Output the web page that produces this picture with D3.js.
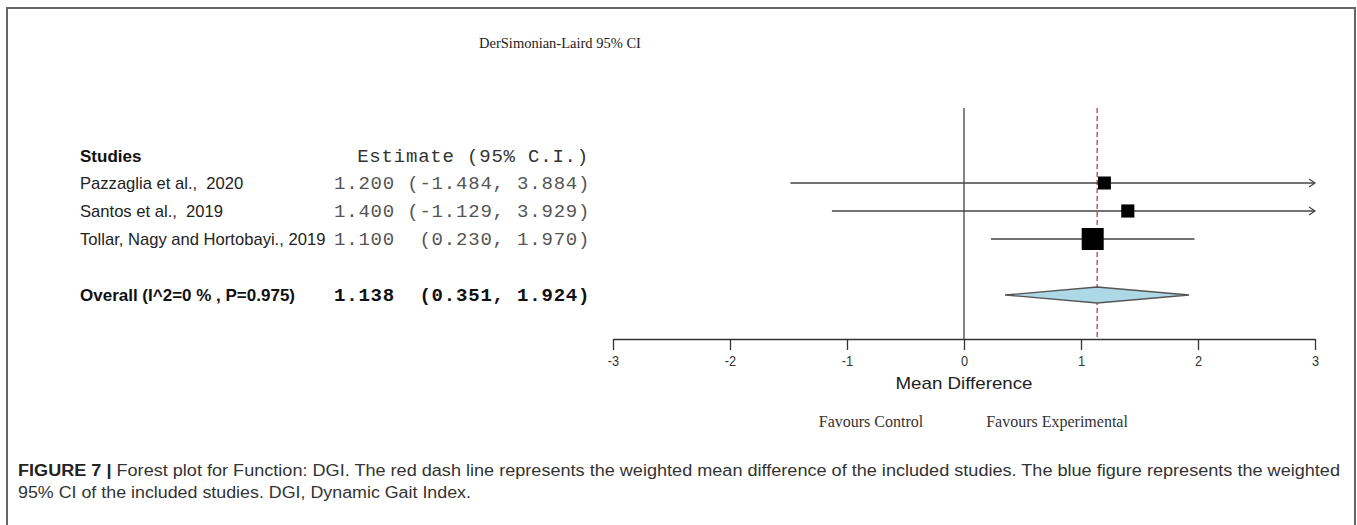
<!DOCTYPE html>
<html><head><meta charset="utf-8">
<script src="https://cdn.jsdelivr.net/npm/d3@7"></script>
<style>body{margin:0;background:#fff;} svg{display:block;} text{white-space:pre;}</style>
</head><body>
<svg id="c" width="1357" height="525"></svg>
<script>
const title = "DerSimonian-Laird 95% CI";
const studies = ["Pazzaglia et al.,  2020", "Santos et al.,  2019", "Tollar, Nagy and Hortobayi., 2019"];
const estimates = [1.200, 1.400, 1.100];
const lower = [-1.484, -1.129, 0.230];
const upper = [3.884, 3.929, 1.970];
const weights = [8.6, 9.7, 81.7];
const overallLabel = "Overall (I^2=0 % , P=0.975)";
const overall = {est: 1.138, lo: 0.351, hi: 1.924};
const ticks = [-3, -2, -1, 0, 1, 2, 3];
const tickLabels = ["-3", "-2", "-1", "0", "1", "2", "3"];
const xLabel = "Mean Difference";
const favours = ["Favours Control", "Favours Experimental"];
const caption1Bold = "FIGURE 7 |";
const caption1 = " Forest plot for Function: DGI. The red dash line represents the weighted mean difference of the included studies. The blue figure represents the weighted";
const caption2 = "95% CI of the included studies. DGI, Dynamic Gait Index.";

const svg = d3.select("#c");
const x = d3.scaleLinear().domain([-3, 3]).range([613, 1315]);
const rowY = d3.scaleLinear().domain([0, 1]).range([183, 211]);
const overallY = 295;
const axisY = 339;
const boxSize = d3.scaleLinear().domain(d3.extent(weights)).range([13, 22]);
const fmt3 = d3.format(".3f");
const fmt = v => fmt3(v).replace("\u2212", "-");
const sans = "Liberation Sans, Arial, sans-serif";
const serif = "Liberation Serif, Times New Roman, serif";
const mono = "Liberation Mono, Courier New, monospace";
const monoSize = 19, monoSpacing = 0.8;

// frame
svg.append("path").attr("d", "M7,525V8H1355V525").attr("fill", "none").attr("stroke", "#666").attr("stroke-width", 2);

// title
svg.append("text").attr("x", 560).attr("y", 48).attr("text-anchor", "middle")
  .attr("font-family", serif).attr("font-size", 14.5).attr("fill", "#222").text(title);

// headers
svg.append("text").attr("x", 80).attr("y", 162).attr("font-family", sans)
  .attr("font-weight", "bold").attr("font-size", 17).attr("fill", "#111").text("Studies");
svg.append("text").attr("x", 589).attr("y", 162).attr("text-anchor", "end").attr("font-family", mono)
  .attr("font-size", monoSize).attr("letter-spacing", monoSpacing).attr("fill", "#333").text("Estimate (95% C.I.)");

// study rows text
studies.forEach((s, i) => {
  const y = rowY(i) + 6;
  svg.append("text").attr("x", 80).attr("y", y).attr("font-family", sans)
    .attr("font-size", 16.6).attr("fill", "#222").text(s);
  const lo = fmt(lower[i]), hi = fmt(upper[i]);
  const str = fmt(estimates[i]) + " " + (lo.length === 5 ? " " : "") + "(" + lo + ", " + hi + ")";
  svg.append("text").attr("x", 334).attr("y", y).attr("font-family", mono).attr("font-size", monoSize)
    .attr("letter-spacing", monoSpacing).attr("fill", "#555").text(str);
});
svg.append("text").attr("x", 80).attr("y", overallY + 6).attr("font-family", sans)
  .attr("font-weight", "bold").attr("font-size", 17).attr("fill", "#111").text(overallLabel);
svg.append("text").attr("x", 334).attr("y", overallY + 6).attr("font-family", mono).attr("font-size", monoSize)
  .attr("font-weight", "bold").attr("letter-spacing", monoSpacing).attr("fill", "#111")
  .text(fmt(overall.est) + "  (" + fmt(overall.lo) + ", " + fmt(overall.hi) + ")");

// reference lines
svg.append("line").attr("x1", x(0)).attr("x2", x(0)).attr("y1", 108).attr("y2", axisY).attr("stroke", "#333").attr("stroke-width", 1.2);
svg.append("line").attr("x1", x(overall.est)).attr("x2", x(overall.est)).attr("y1", 108).attr("y2", axisY)
  .attr("stroke", "#b22222").attr("stroke-width", 1.1).attr("stroke-dasharray", "5,3");

// CI lines
const [dmin, dmax] = x.domain();
studies.forEach((s, i) => {
  const y = rowY(i);
  const l = Math.max(lower[i], dmin), u = Math.min(upper[i], dmax);
  svg.append("line").attr("x1", x(l)).attr("x2", x(u)).attr("y1", y).attr("y2", y).attr("stroke", "#444").attr("stroke-width", 1.3);
  if (upper[i] > dmax) {
    svg.append("path").attr("d", `M${x(dmax) - 6},${y - 4}L${x(dmax)},${y}L${x(dmax) - 6},${y + 4}`)
      .attr("fill", "none").attr("stroke", "#444").attr("stroke-width", 1.2);
  }
  if (lower[i] < dmin) {
    svg.append("path").attr("d", `M${x(dmin) + 6},${y - 4}L${x(dmin)},${y}L${x(dmin) + 6},${y + 4}`)
      .attr("fill", "none").attr("stroke", "#444").attr("stroke-width", 1.2);
  }
  const b = boxSize(weights[i]);
  svg.append("rect").attr("x", x(estimates[i]) - b / 2).attr("y", y - b / 2).attr("width", b).attr("height", b).attr("fill", "#000");
});

// diamond
svg.append("path").attr("d", `M${x(overall.lo)},${overallY}L${x(overall.est)},${overallY - 8}L${x(overall.hi)},${overallY}L${x(overall.est)},${overallY + 8}Z`)
  .attr("fill", "#add8e6").attr("stroke", "#555").attr("stroke-width", 1.3);

// axis
const axis = d3.axisBottom(x).tickValues(ticks).tickSize(11).tickSizeOuter(0).tickPadding(5)
  .tickFormat((d, i) => tickLabels[i]);
const ag = svg.append("g").attr("transform", `translate(0,${axisY})`).call(axis);
ag.attr("font-size", null).attr("font-family", null);
ag.select(".domain").attr("stroke", "#333").attr("stroke-width", 1.3);
ag.selectAll(".tick line").attr("stroke", "#333").attr("stroke-width", 1.3);
ag.selectAll(".tick text").attr("fill", "#333").attr("font-family", sans).attr("font-size", 15).attr("transform", "scale(0.85,1)");

svg.append("text").attr("x", x(0)).attr("y", 389).attr("text-anchor", "middle").attr("font-family", sans)
  .attr("font-size", 17).attr("fill", "#222").attr("textLength", 137).attr("lengthAdjust", "spacingAndGlyphs").text(xLabel);

svg.append("text").attr("x", 871).attr("y", 427).attr("text-anchor", "middle").attr("font-family", serif)
  .attr("font-size", 16).attr("fill", "#333").text(favours[0]);
svg.append("text").attr("x", 1057).attr("y", 427).attr("text-anchor", "middle").attr("font-family", serif)
  .attr("font-size", 16).attr("fill", "#333").text(favours[1]);

// caption
const cap = svg.append("text").attr("x", 18).attr("y", 476).attr("font-family", sans)
  .attr("font-size", 16).attr("fill", "#333").attr("textLength", 1322).attr("lengthAdjust", "spacingAndGlyphs");
cap.append("tspan").attr("font-weight", "bold").attr("fill", "#222").text(caption1Bold);
cap.append("tspan").text(caption1);
svg.append("text").attr("x", 18).attr("y", 498).attr("font-family", sans)
  .attr("font-size", 16).attr("fill", "#333").attr("textLength", 453).attr("lengthAdjust", "spacingAndGlyphs").text(caption2);
</script>
</body></html>
